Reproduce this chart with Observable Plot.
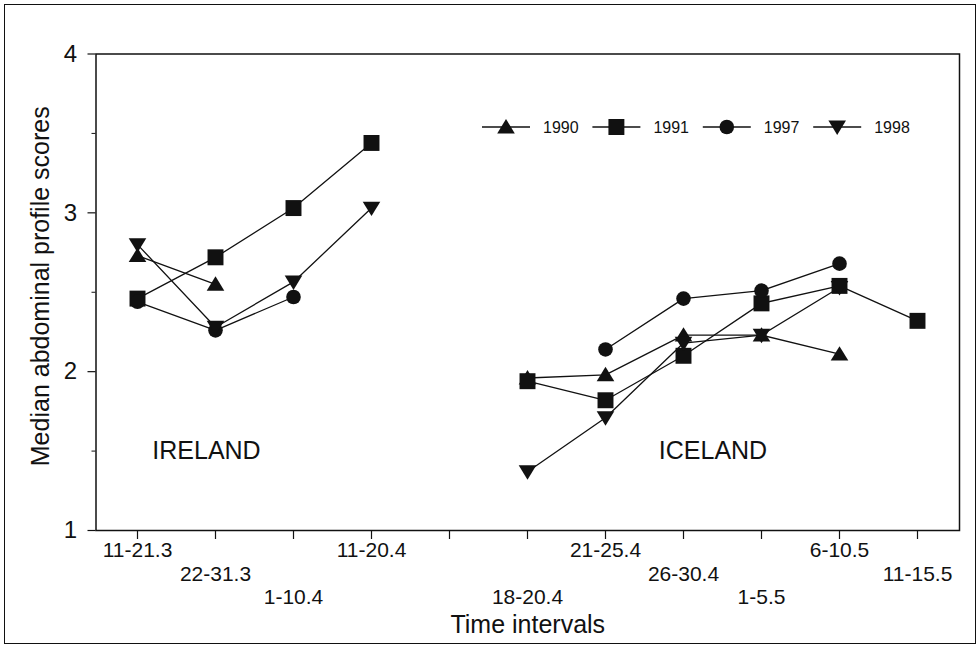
<!DOCTYPE html>
<html>
<head>
<meta charset="utf-8">
<script src="https://cdn.jsdelivr.net/npm/d3@7"></script>
<script src="https://cdn.jsdelivr.net/npm/@observablehq/plot@0.6"></script>
<style>
  html, body { margin: 0; padding: 0; background: #fff; }
  #chart { position: relative; width: 979px; height: 646px; font-family: "Liberation Sans", Arial, Helvetica, sans-serif; }
  #border { position: absolute; left: 4px; top: 4px; width: 970px; height: 638px; border: 1.5px solid #111; pointer-events: none; }
  #legend { position: absolute; left: 470px; top: 110px; }
</style>
</head>
<body>
<div id="chart"><div id="border"></div></div>
<script>
// ---- data ----
const intervals = ["11-21.3", "22-31.3", "1-10.4", "11-20.4", "", "18-20.4", "21-25.4", "26-30.4", "1-5.5", "6-10.5", "11-15.5"];
const years = ["1990", "1991", "1997", "1998"];
const s1990 = [2.73, 2.55, null, null, null, 1.96, 1.98, 2.23, 2.23, 2.11, null];
const s1991 = [2.46, 2.72, 3.03, 3.44, null, 1.94, 1.82, 2.10, 2.43, 2.54, 2.32];
const s1997 = [2.44, 2.26, 2.47, null, null, null, 2.14, 2.46, 2.51, 2.68, null];
const s1998 = [2.80, 2.28, 2.565, 3.03, null, 1.37, 1.71, 2.18, 2.23, 2.53, null];
const yTicks = [1, 2, 3, 4];
const yMinorTicks = [1.5, 2.5, 3.5];
const regionLabels = [{label: "IRELAND", at: "22-31.3", y: 1.5}, {label: "ICELAND", at: "26-30.4", y: 1.5}];

// ---- build table ----
const seriesValues = [s1990, s1991, s1997, s1998];
const rows = [];
years.forEach((yr, k) => {
  intervals.forEach((iv, i) => {
    const v = seriesValues[k][i];
    rows.push({year: yr, interval: iv, value: v == null ? NaN : v});
  });
});

// ---- symbols ----
const triUp = {draw(ctx, size) { const r = Math.sqrt(size / Math.PI); ctx.moveTo(0, -r); ctx.lineTo(r * 1.1, r * 0.8); ctx.lineTo(-r * 1.1, r * 0.8); ctx.closePath(); }};
const triDown = {draw(ctx, size) { const r = Math.sqrt(size / Math.PI); ctx.moveTo(0, r); ctx.lineTo(r * 1.1, -r * 0.8); ctx.lineTo(-r * 1.1, -r * 0.8); ctx.closePath(); }};
const symbolFor = {"1990": triUp, "1991": "square", "1997": "circle", "1998": triDown};
const rFor = {"1990": 8, "1991": 9, "1997": 7.3, "1998": 8};

const rowsLabel1 = intervals.filter((d, i) => i % 3 === 0 && d !== "");
const rowsLabel2 = intervals.filter((d, i) => i % 3 === 1 && d !== "");
const rowsLabel3 = intervals.filter((d, i) => i % 3 === 2 && d !== "");

const dotMarks = years.map(yr => Plot.dot(rows.filter(d => d.year === yr && !isNaN(d.value)), {
  x: "interval", y: "value", symbol: symbolFor[yr], r: rFor[yr], fill: "#111", stroke: "none"
}));

const plot = Plot.plot({
  width: 979,
  height: 646,
  marginLeft: 95.5,
  marginRight: 20,
  marginTop: 53.5,
  marginBottom: 116,
  style: {fontFamily: "'Liberation Sans', Arial, Helvetica, sans-serif", color: "#111", background: "transparent", overflow: "visible"},
  x: {type: "point", domain: intervals, padding: 0.5, align: 0.5},
  y: {domain: [1, 4]},
  marks: [
    Plot.frame({stroke: "#111", strokeWidth: 1.5}),
    Plot.axisX({tickSize: 9, tickFormat: () => "", label: null, strokeWidth: 1.2}),
    Plot.axisX({ticks: rowsLabel1, tickSize: 0, tickPadding: 12, fontSize: 21, label: null}),
    Plot.axisX({ticks: rowsLabel2, tickSize: 0, tickPadding: 36, fontSize: 21, label: null}),
    Plot.axisX({ticks: rowsLabel3, tickSize: 0, tickPadding: 59, fontSize: 21, label: null}),
    Plot.axisY({ticks: yTicks, tickSize: 8, tickPadding: 11, fontSize: 24, tickFormat: d => String(d), label: null, strokeWidth: 1.2}),
    Plot.axisY({ticks: yMinorTicks, tickSize: 4, tickFormat: () => "", label: null}),
    Plot.text(["Time intervals"], {frameAnchor: "bottom", dy: 94, lineAnchor: "middle", textAnchor: "middle", fontSize: 25, fill: "#111"}),
    Plot.text(["Median abdominal profile scores"], {frameAnchor: "left", dx: -55, dy: -6, rotate: -90, lineAnchor: "middle", textAnchor: "middle", fontSize: 25, fill: "#111"}),
    Plot.line(rows, {x: "interval", y: "value", z: "year", stroke: "#111", strokeWidth: 1.3}),
    ...dotMarks,
    Plot.text([regionLabels[0]], {x: "at", y: "y", text: "label", dx: -9, fontSize: 25, fill: "#111"}),
    Plot.text([regionLabels[1]], {x: "at", y: "y", text: "label", dx: 29.5, fontSize: 25, fill: "#111"})
  ]
});
document.getElementById("chart").appendChild(plot);

// ---- legend ----
const lg = d3.select("#chart").append("svg").attr("id", "legend").attr("width", 460).attr("height", 40);
years.forEach((yr, i) => {
  const g = lg.append("g").attr("transform", `translate(${12 + i * 110.4},17)`);
  g.append("line").attr("x1", 0).attr("x2", 48).attr("y1", 0).attr("y2", 0).attr("stroke", "#111").attr("stroke-width", 1.3);
  const sym = typeof symbolFor[yr] === "string" ? (symbolFor[yr] === "square" ? d3.symbolSquare : d3.symbolCircle) : symbolFor[yr];
  const r = rFor[yr];
  g.append("path").attr("transform", "translate(24,0)").attr("d", d3.symbol(sym, r * r * Math.PI)()).attr("fill", "#111");
  g.append("text").attr("x", 61).attr("y", 0).attr("dy", "0.36em").attr("font-size", 16).attr("fill", "#111")
    .style("font-family", "'Liberation Sans', Arial, sans-serif").text(yr);
});
</script>
</body>
</html>
